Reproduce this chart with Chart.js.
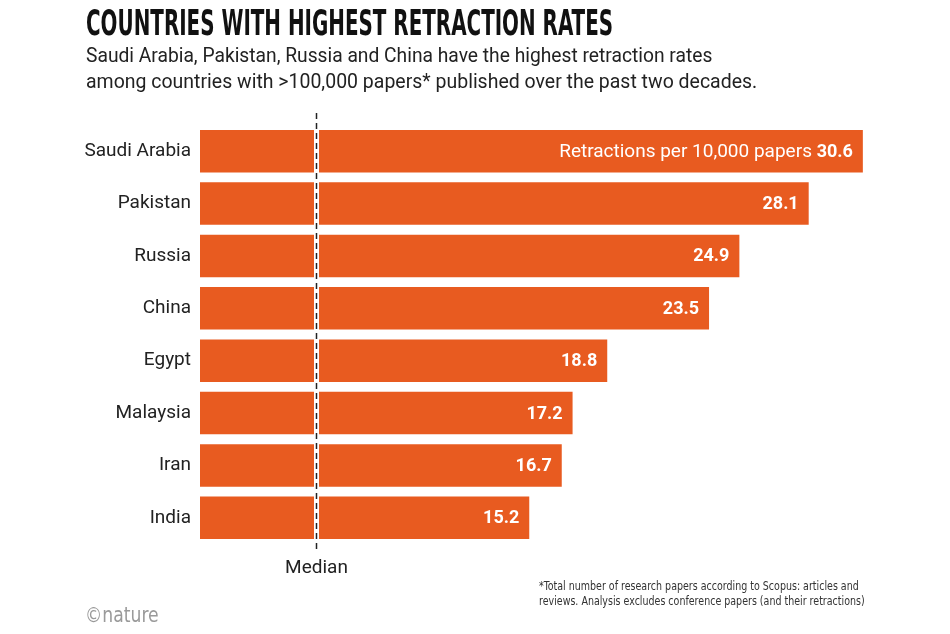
<!DOCTYPE html>
<html>
<head>
<meta charset="utf-8">
<script src="https://cdn.jsdelivr.net/npm/chart.js@4.4.1/dist/chart.umd.min.js"></script>
<style>
  html, body { margin: 0; padding: 0; background: #fff; }
  #wrap { position: relative; width: 950px; height: 634px; overflow: hidden; }
  #wrap canvas { position: absolute; left: 0; top: 0; }
  .txt { position: absolute; white-space: nowrap; transform-origin: 0 0; }
  #title { left: 86px; top: 5px; font: 700 36px/36px "Liberation Sans Narrow", "DejaVu Sans Condensed", sans-serif; color: #111; }
  .sub { left: 86px; font: 400 20px/26px Roboto, sans-serif; color: #222; }
  #sub1 { top: 42px; }
  #sub2 { top: 68px; }
  #foot { left: 539px; top: 579px; font: 400 11.5px/15px "Liberation Sans Narrow", "DejaVu Sans Condensed", sans-serif; color: #333; }
  #logo { left: 85px; top: 603px; font: 400 22px/24px "Liberation Sans Narrow", "DejaVu Sans Condensed", sans-serif; color: #9a9a9a; }
</style>
</head>
<body>
<div id="wrap">
  <canvas id="chart"></canvas>
  <div class="txt" id="title" data-w="527">COUNTRIES WITH HIGHEST RETRACTION RATES</div>
  <div class="txt sub" id="sub1" data-w="626">Saudi Arabia, Pakistan, Russia and China have the highest retraction rates</div>
  <div class="txt sub" id="sub2" data-w="671">among countries with &gt;100,000 papers* published over the past two decades.</div>
  <div class="txt" id="foot" data-w="326">*Total number of research papers according to Scopus: articles and<br>reviews. Analysis excludes conference papers (and their retractions)</div>
  <div class="txt" id="logo" data-w="74">©nature</div>
</div>
<script>
const countries = ['Saudi Arabia', 'Pakistan', 'Russia', 'China', 'Egypt', 'Malaysia', 'Iran', 'India'];
const rates = [30.6, 28.1, 24.9, 23.5, 18.8, 17.2, 16.7, 15.2];
const medianRate = 5.35;
const firstLabelPrefix = 'Retractions per 10,000 papers ';

const barColor = '#e85b20';

document.querySelectorAll('[data-w]').forEach(el => {
  const w = +el.dataset.w;
  const actual = el.scrollWidth;
  el.style.transform = 'scaleX(' + (w / actual) + ')';
});

const valueLabels = {
  id: 'valueLabels',
  afterDatasetsDraw(chart) {
    const ctx = chart.ctx;
    const meta = chart.getDatasetMeta(0);
    ctx.save();
    ctx.fillStyle = '#fff';
    ctx.textBaseline = 'middle';
    meta.data.forEach((bar, i) => {
      const txt = rates[i].toFixed(1);
      ctx.font = '700 18px Roboto, sans-serif';
      const vw = ctx.measureText(txt).width;
      const xr = bar.x - 10;
      ctx.textAlign = 'right';
      ctx.fillText(txt, xr, bar.y + 1);
      if (i === 0) {
        ctx.font = '400 19px Roboto, sans-serif';
        ctx.fillText(firstLabelPrefix, xr - vw, bar.y + 1);
      }
    });
    ctx.restore();
  }
};

const medianLine = {
  id: 'medianLine',
  afterDatasetsDraw(chart) {
    const ctx = chart.ctx;
    const x = Math.round(chart.scales.x.getPixelForValue(medianRate)) + 0.5;
    const top = chart.chartArea.top - 12;
    const bottom = chart.chartArea.bottom + 8;
    ctx.save();
    ctx.strokeStyle = '#fff';
    ctx.lineWidth = 5;
    ctx.beginPath();
    ctx.moveTo(x, chart.chartArea.top);
    ctx.lineTo(x, chart.chartArea.bottom);
    ctx.stroke();
    ctx.strokeStyle = '#222';
    ctx.lineWidth = 1.5;
    ctx.setLineDash([6, 4]);
    ctx.beginPath();
    ctx.moveTo(x, top);
    ctx.lineTo(x, bottom);
    ctx.stroke();
    ctx.setLineDash([]);
    ctx.fillStyle = '#222';
    ctx.font = '400 19px Roboto, sans-serif';
    ctx.textAlign = 'center';
    ctx.textBaseline = 'middle';
    ctx.fillText('Median', x, 568);
    ctx.restore();
  }
};

new Chart(document.getElementById('chart'), {
  type: 'bar',
  data: {
    labels: countries,
    datasets: [{
      data: rates,
      backgroundColor: barColor,
      borderWidth: 0,
      categoryPercentage: 1,
      barPercentage: 0.81
    }]
  },
  options: {
    indexAxis: 'y',
    responsive: true,
    maintainAspectRatio: false,
    animation: false,
    layout: { padding: { left: 0, right: 20, top: 125, bottom: 90 } },
    plugins: {
      legend: { display: false },
      tooltip: { enabled: false }
    },
    scales: {
      x: {
        display: false,
        min: 0,
        max: 33.7
      },
      y: {
        afterFit(scale) { scale.width = 200; },
        grid: { display: false, drawTicks: false },
        border: { display: false },
        ticks: {
          padding: 9,
          color: '#222',
          font: { family: 'Roboto, sans-serif', size: 19 }
        }
      }
    }
  },
  plugins: [valueLabels, medianLine]
});
</script>
</body>
</html>
